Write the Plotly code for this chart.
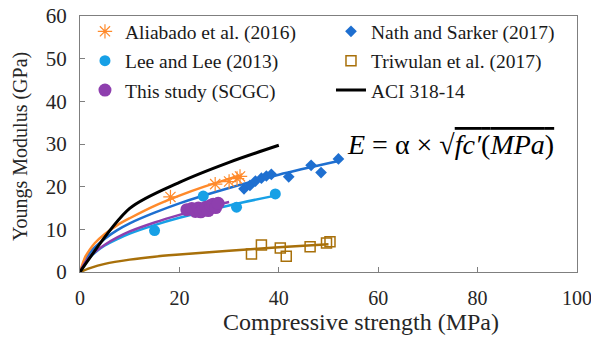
import plotly.graph_objects as go

# ---- measured data points ----
ali_x = [18.2, 27.2, 30.0, 31.6, 32.2]
ali_y = [17.6, 20.6, 21.2, 21.9, 22.4]

lee_x = [15.0, 24.8, 31.5, 39.3]
lee_y = [9.7, 17.8, 15.2, 18.3]

ths_x = [21.5, 22.5, 23.2, 23.8, 24.3, 24.8, 25.3, 25.8, 26.3, 26.8, 27.3, 27.8]
ths_y = [14.6, 14.9, 14.2, 15.0, 14.1, 14.7, 15.2, 14.4, 15.6, 15.9, 15.1, 16.1]

nath_x = [33.0, 34.2, 35.3, 36.5, 37.5, 38.5, 42.0, 46.5, 48.5, 52.0]
nath_y = [19.5, 20.3, 21.3, 22.0, 22.5, 22.9, 22.3, 25.0, 23.3, 26.5]

tri_x = [34.5, 36.5, 40.3, 41.5, 46.3, 49.6, 50.3]
tri_y = [4.2, 6.3, 5.6, 3.7, 5.9, 6.8, 7.1]

# ---- fitted curves ----
aci_cx = [0, 10, 20, 30, 40]
aci_cy = [0, 14.9, 21.0, 25.7, 29.7]

ali_cx = [0, 1, 2, 3, 5, 7.5, 10, 15, 20, 25, 32]
ali_cy = [0, 3.4, 5.3, 6.8, 8.9, 11.0, 12.6, 15.5, 17.9, 20.0, 22.6]

nath_cx = [0, 1, 2, 3, 5, 7.5, 10, 15, 20, 30, 40, 52]
nath_cy = [0, 2.8, 4.5, 5.8, 7.8, 9.8, 11.4, 13.9, 16.1, 19.7, 22.8, 26.0]

lee_cx = [0, 1, 2, 3, 5, 7.5, 10, 15, 20, 30, 39.3]
lee_cy = [0, 2.2, 3.5, 4.5, 6.2, 7.7, 9.0, 11.0, 12.7, 15.6, 17.9]

ths_cx = [0, 1, 2, 3, 5, 7.5, 10, 15, 20, 25, 30]
ths_cy = [0, 2.2, 3.6, 4.7, 6.4, 8.1, 9.5, 11.6, 13.4, 15.0, 16.4]

tri_cx = [0, 2, 5, 10, 15, 20, 30, 40, 50]
tri_cy = [0, 0.9, 1.9, 2.9, 3.6, 4.1, 5.0, 5.8, 6.5]

x_ticks = [0, 20, 40, 60, 80, 100]
y_ticks = [0, 10, 20, 30, 40, 50, 60]

C_ORANGE = "#FF8A2B"
C_DBLUE = "#1E6FD0"
C_LBLUE = "#17A0E6"
C_PURPLE = "#8E3FAE"
C_BROWN = "#A8700A"

FONT = "'Liberation Serif', 'Times New Roman', serif"
TXT = "#262626"

fig = go.Figure()

def curve(x, y, color, width=2.5):
    fig.add_trace(go.Scatter(x=x, y=y, mode="lines", showlegend=False,
                             line=dict(color=color, width=width, shape="spline", smoothing=0.8),
                             hoverinfo="skip"))

curve(tri_cx, tri_cy, C_BROWN)
curve(lee_cx, lee_cy, C_LBLUE)
curve(nath_cx, nath_cy, C_DBLUE)
curve(ali_cx, ali_cy, C_ORANGE)
curve(ths_cx, ths_cy, C_PURPLE)

fig.add_trace(go.Scatter(x=ali_x, y=ali_y, mode="markers", name="Aliabado et al. (2016)",
                         marker=dict(symbol="asterisk-open", size=12, color=C_ORANGE,
                                     line=dict(color=C_ORANGE, width=1.2)),
                         legend="legend", legendgroup="a"))
fig.add_trace(go.Scatter(x=lee_x, y=lee_y, mode="markers", name="Lee and Lee (2013)",
                         marker=dict(symbol="circle", size=11, color=C_LBLUE),
                         legend="legend", legendgroup="b"))
fig.add_trace(go.Scatter(x=ths_x, y=ths_y, mode="markers", name="This study (SCGC)",
                         marker=dict(symbol="circle", size=13, color=C_PURPLE),
                         legend="legend", legendgroup="c"))
fig.add_trace(go.Scatter(x=nath_x, y=nath_y, mode="markers", name="Nath and Sarker (2017)",
                         marker=dict(symbol="diamond", size=9, color=C_DBLUE),
                         legend="legend2", legendgroup="d"))
fig.add_trace(go.Scatter(x=tri_x, y=tri_y, mode="markers", name="Triwulan et al. (2017)",
                         marker=dict(symbol="square-open", size=10, color=C_BROWN,
                                     line=dict(color=C_BROWN, width=1.5)),
                         legend="legend2", legendgroup="e"))
fig.add_trace(go.Scatter(x=aci_cx, y=aci_cy, mode="lines", name="ACI 318-14",
                         line=dict(color="black", width=3, shape="spline", smoothing=0.8),
                         legend="legend2", legendgroup="f"))

fig.add_annotation(x=74.6, y=29.8, xref="x", yref="y", showarrow=False,
                   text="<i>E</i> = α × √<span style='text-decoration:overline'><i>fc′</i>(<i>MPa</i>)</span>",
                   font=dict(family=FONT, size=28, color="black"))

# axis titles as annotations (positioned like the reference)
fig.add_annotation(x=0.565, y=-0.195, xref="paper", yref="paper", showarrow=False,
                   xanchor="center", yanchor="middle",
                   text="Compressive strength (MPa)", font=dict(family=FONT, size=24, color=TXT))
fig.add_annotation(x=-0.12, y=0.49, xref="paper", yref="paper", showarrow=False,
                   xanchor="center", yanchor="middle", textangle=-90,
                   text="Youngs Modulus (GPa)", font=dict(family=FONT, size=20, color=TXT))

legend_common = dict(font=dict(family=FONT, size=19.5, color="#1a1a1a"), bgcolor="rgba(0,0,0,0)",
                     borderwidth=0, tracegroupgap=1, itemwidth=30,
                     xanchor="left", yanchor="top")

fig.update_layout(
    width=591, height=342,
    margin=dict(l=80, r=14, t=16, b=70),
    plot_bgcolor="white", paper_bgcolor="white",
    font=dict(family=FONT, size=20, color=TXT),
    legend=dict(x=0.01, y=1.015, **legend_common),
    legend2=dict(x=0.505, y=1.015, **legend_common),
    xaxis=dict(range=[0, 100], tickvals=x_ticks, ticks="inside", ticklen=5,
               tickcolor="#7f7f7f", showline=True, linecolor="#7f7f7f", linewidth=1,
               mirror=True, showgrid=False, zeroline=False, automargin=False,
               ticklabelstandoff=8, ticklabeloverflow="allow",
               tickfont=dict(family=FONT, size=20, color=TXT)),
    yaxis=dict(range=[0, 60], tickvals=y_ticks, ticks="inside", ticklen=5,
               tickcolor="#7f7f7f", showline=True, linecolor="#7f7f7f", linewidth=1,
               mirror=True, showgrid=False, zeroline=False, automargin=False,
               ticklabelstandoff=8, ticklabeloverflow="allow",
               tickfont=dict(family=FONT, size=21, color=TXT)),
)

fig.write_html("out.html")
